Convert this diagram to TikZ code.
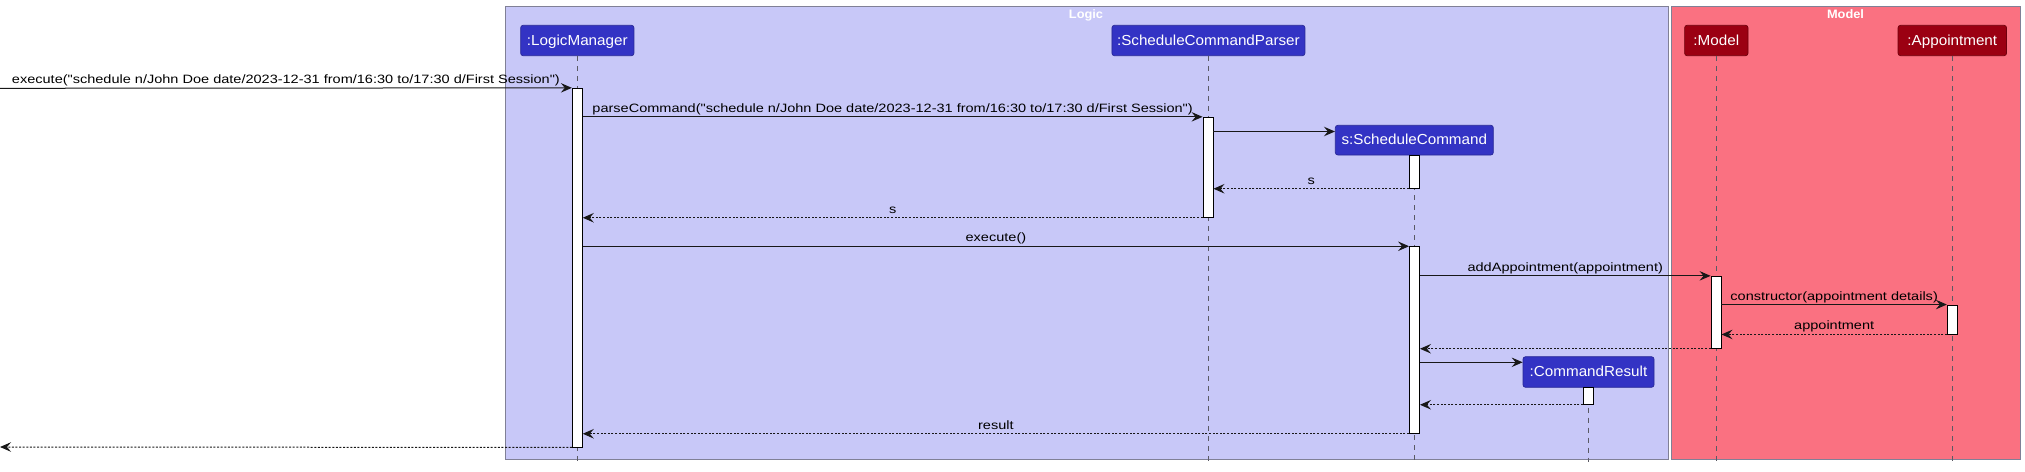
\documentclass[tikz,border=0pt]{standalone}
\usepackage{fontspec}
\setmainfont{Liberation Sans}
\newfontfamily\msgfont{Liberation Sans}[FakeStretch=1.2]
\newfontfamily\partfont{Liberation Sans}[FakeStretch=1.05]
\newfontfamily\titlefont{Liberation Sans Bold}[FakeStretch=1.05]
\usetikzlibrary{arrows.meta,calc}
\definecolor{logicbg}{RGB}{200,200,248}
\definecolor{modelbg}{RGB}{250,113,129}
\definecolor{logicpart}{RGB}{51,51,196}
\definecolor{logicpartb}{RGB}{40,40,150}
\definecolor{modelpart}{RGB}{155,0,18}
\definecolor{modelpartb}{RGB}{110,0,12}
\definecolor{framebd}{RGB}{128,128,150}
\definecolor{lineink}{RGB}{24,24,24}
\definecolor{lifeink}{RGB}{90,90,100}
\tikzset{
  framebox/.style={draw=framebd,line width=0.9pt},
  frametitle/.style={text=white,font=\titlefont\fontsize{12.2}{14}\selectfont,anchor=base},
  partbox/.style={rectangle,rounded corners=2.5pt,line width=0.7pt,minimum height=30.4pt,inner sep=0pt,
    text=white,font=\partfont\fontsize{14.5}{16}\selectfont,text height=11pt,text depth=2pt},
  lpart/.style={partbox,fill=logicpart,draw=logicpartb},
  mpart/.style={partbox,fill=modelpart,draw=modelpartb},
  lifeline/.style={draw=lifeink,line width=0.6pt,dash pattern=on 5pt off 5pt},
  actbox/.style={rectangle,draw=black,fill=white,line width=0.9pt,minimum width=10pt,inner sep=0pt},
  msg/.style={draw=lineink,line width=1pt,-{Stealth[length=11pt,width=9.5pt,inset=4pt]}},
  ret/.style={msg,dash pattern=on 2pt off 1.6pt},
  lbl/.style={midway,anchor=base,yshift=4.5pt,inner sep=0pt,text=black,font=\msgfont\fontsize{12.1}{14}\selectfont}
}
\begin{document}
\begin{tikzpicture}[x=1pt,y=-1pt]
\useasboundingbox (0,0) rectangle (2025,471);
% frames
\draw[framebox,fill=logicbg] (505.8,6) rectangle (1668.5,459.3);
\draw[framebox,fill=modelbg] (1671,6) rectangle (2020,459.3);
\node[frametitle] (tlogic) at (1086,18.5) {Logic};
\node[frametitle] (tmodel) at (1845.5,18.5) {Model};
% participants
\node[lpart,minimum width=113.3pt] (lm) at (577.3,40.5) {:LogicManager};
\node[lpart,minimum width=193pt] (scp) at (1208.4,40.5) {:ScheduleCommandParser};
\node[mpart,minimum width=63.4pt] (mo) at (1716.3,40.5) {:Model};
\node[mpart,minimum width=108.5pt] (ap) at (1952.3,40.5) {:Appointment};
\node[lpart,minimum width=158pt,minimum height=29.7pt] (sc) at (1414.3,140.15) {s:ScheduleCommand};
\node[lpart,minimum width=131pt,minimum height=30.6pt] (cr) at (1588.5,372) {:CommandResult};
% lifelines
\coordinate (lbot) at (0,462);
\draw[lifeline] (lm.south) -- (lm.south |- lbot);
\draw[lifeline] (scp.south) -- (scp.south |- lbot);
\draw[lifeline] (mo.south) -- (mo.south |- lbot);
\draw[lifeline] (ap.south) -- (ap.south |- lbot);
\draw[lifeline] (sc.south) -- (sc.south |- lbot);
\draw[lifeline] (cr.south) -- (cr.south |- lbot);
% activations
\node[actbox,minimum height=358.7pt] (lmact) at (577.3,267.65) {};
\node[actbox,minimum height=100pt] (scpact) at (1208,167.3) {};
\node[actbox,minimum height=33.3pt] (sc1) at (1414.5,171.65) {};
\node[actbox,minimum height=186.6pt] (sc2) at (1414.5,340) {};
\node[actbox,minimum height=72pt] (mact) at (1716,312.3) {};
\node[actbox,minimum height=29pt] (aact) at (1952.3,319.5) {};
\node[actbox,minimum height=17pt] (cract) at (1588.5,395.8) {};
% free ends
\coordinate (inp) at (0,88.3);
\coordinate (outp) at (0,447);
\coordinate (c3) at (0,131.5);
\coordinate (c11) at (0,362.3);
% messages
\draw[msg] (inp) -- (lmact.north west)
  node[lbl] {execute("schedule n/John Doe date/2023-12-31 from/16:30 to/17:30 d/First Session")};
\draw[msg] (lmact.east |- scpact.north) -- (scpact.north west)
  node[lbl] {parseCommand("schedule n/John Doe date/2023-12-31 from/16:30 to/17:30 d/First Session")};
\draw[msg] (scpact.east |- c3) -- (sc.west |- c3);
\draw[ret] (sc1.south west) -- (scpact.east |- sc1.south) node[lbl] {s};
\draw[ret] (scpact.south west) -- (lmact.east |- scpact.south) node[lbl] {s};
\draw[msg] (lmact.east |- sc2.north) -- (sc2.north west) node[lbl] {execute()};
\draw[msg] (sc2.east |- mact.north) -- (mact.north west) node[lbl] {addAppointment(appointment)};
\draw[msg] (mact.east |- aact.north) -- (aact.north west) node[lbl] {constructor(appointment details)};
\draw[ret] (aact.south west) -- (mact.east |- aact.south) node[lbl] {appointment};
\draw[ret] (mact.south west) -- (sc2.east |- mact.south);
\draw[msg] (sc2.east |- c11) -- (cr.west |- c11);
\draw[ret] (cract.south west) -- (sc2.east |- cract.south);
\draw[ret] (sc2.south west) -- (lmact.east |- sc2.south) node[lbl] {result};
\draw[ret] (lmact.south west) -- (outp);
\end{tikzpicture}
\end{document}
